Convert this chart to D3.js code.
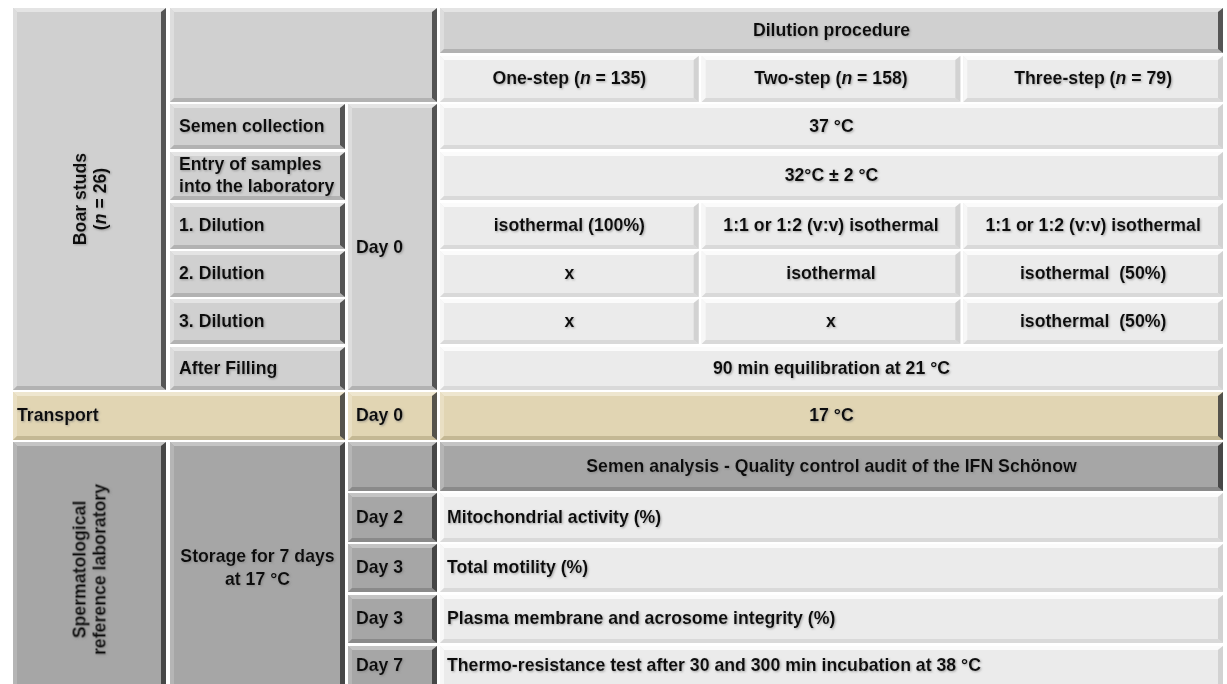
<!DOCTYPE html>
<html><head><meta charset="utf-8">
<script src="https://cdn.jsdelivr.net/npm/d3@7"></script>
<style>
html,body{margin:0;padding:0;background:#fff;}
svg text{font-family:"Liberation Sans",Arial,sans-serif;font-weight:bold;font-size:17.7px;fill:#111;white-space:pre;}
</style></head>
<body><svg id="c" width="1227" height="684"></svg>
<script>
// ---------- DATA ----------
const section1 = ["Boar studs", "(n = 26)"];
const section2 = ["Spermatological", "reference laboratory"];
const headerTitle = "Dilution procedure";
const procedures = ["One-step", "Two-step", "Three-step"];
const procedureN = [135, 158, 79];
const studSteps = ["Semen collection", "Entry of samples|into the laboratory", "1. Dilution", "2. Dilution", "3. Dilution", "After Filling"];
const stepDay = "Day 0";
const sharedTemps = ["37 °C", "32°C ± 2 °C", null, null, null, "90 min equilibration at 21 °C"];
const dilutionOneStep = ["isothermal (100%)", "x", "x"];
const dilutionTwoStep = ["1:1 or 1:2 (v:v) isothermal", "isothermal", "x"];
const dilutionThreeStep = ["1:1 or 1:2 (v:v) isothermal", "isothermal  (50%)", "isothermal  (50%)"];
const transportLabel = "Transport";
const transportDay = "Day 0";
const transportTemp = "17 °C";
const storageLabel = ["Storage for 7 days", "at 17 °C"];
const analysisTitle = "Semen analysis - Quality control audit of the IFN Schönow";
const analysisDays = ["Day 2", "Day 3", "Day 3", "Day 7"];
const analysisTests = ["Mitochondrial activity (%)", "Total motility (%)", "Plasma membrane and acrosome integrity (%)", "Thermo-resistance test after 30 and 300 min incubation at 38 °C"];

// ---------- LAYOUT ----------
const rowKeys = ["h0","h1","s0","s1","s2","s3","s4","s5","tr","a0","a1","a2","a3","a4"];
const rowTops = [8,56,104,152,203,251,299,347,392,442,493,544,595,646];
const rowBots = [53,102,149,200,249,297,344,390,440,491,542,592,643,697];
const yTop = d3.scaleOrdinal(rowKeys, rowTops);
const yBot = d3.scaleOrdinal(rowKeys, rowBots);
const colKeys = ["A","B","C","D"];
const xLeft = d3.scaleOrdinal(colKeys, [13,170,348,440]);
const xRight = d3.scaleOrdinal(colKeys, [166,345,437,1223]);
const xProc = d3.scaleBand(procedures, [440, 1225]).paddingInner(0.0);

const styles = {
  mid:  {fill:"#d0d0d0", t:"#e4e4e4", l:"#dddddd", b:"#b2b2b2", r:"#555555"},
  light:{fill:"#ebebeb", t:"#fbfbfb", l:"#f7f7f7", b:"#d9d9d9", r:"#d2d2d2"},
  tan:  {fill:"#e1d5b3", t:"#eee6cf", l:"#e9dfc3", b:"#c4b894", r:"#55534c"},
  dark: {fill:"#a6a6a6", t:"#c4c4c4", l:"#b5b5b5", b:"#8a8a8a", r:"#474747"}
};

const svg = d3.select("#c");
const defs = svg.append("defs");
defs.append("filter").attr("id","sh").attr("x","-5%").attr("y","-30%").attr("width","110%").attr("height","160%")
  .append("feDropShadow").attr("dx",1).attr("dy",1).attr("stdDeviation",0.8)
  .attr("flood-color","#777").attr("flood-opacity",0.6);

const gCells = svg.append("g");
const gText = svg.append("g").attr("filter","url(#sh)");

function cell(x0,y0,x1,y1,st){
  const s = styles[st];
  const g = gCells.append("g");
  const bt=4, bl=4, bb=4, br=5;
  g.append("rect").attr("x",x0).attr("y",y0).attr("width",x1-x0).attr("height",y1-y0).attr("fill",s.fill);
  const poly = (pts,c)=>g.append("polygon").attr("points",pts.map(p=>p.join(",")).join(" ")).attr("fill",c);
  poly([[x0,y0],[x1,y0],[x1-br,y0+bt],[x0+bl,y0+bt]], s.t);
  poly([[x0,y0],[x0+bl,y0+bt],[x0+bl,y1-bb],[x0,y1]], s.l);
  poly([[x0,y1],[x0+bl,y1-bb],[x1-br,y1-bb],[x1,y1]], s.b);
  poly([[x1,y0],[x1,y1],[x1-br,y1-bb],[x1-br,y0+bt]], s.r);
}
function txt(x,y,str,anchor){
  const t = gText.append("text").attr("x",x).attr("y",y).attr("text-anchor",anchor||"start").attr("dominant-baseline","central");
  return t.text(str);
}
const mid = (a,b)=>(a+b)/2;

// ---------- TOP SECTION ----------
cell(xLeft("A"), yTop("h0"), xRight("A"), yBot("s5"), "mid");
{
  const cx = mid(xLeft("A"), xRight("A")), cy = mid(yTop("h0"), yBot("s5"));
  const t = gText.append("text").attr("transform",`translate(${cx},${cy}) rotate(-90)`).attr("text-anchor","middle");
  t.append("tspan").attr("x",0).attr("dy","-0.2em").text(section1[0]);
  const t2 = t.append("tspan").attr("x",0).attr("dy","1.12em");
  const m = section1[1].match(/^\((n)(.*)$/);
  t2.append("tspan").text("(");
  t2.append("tspan").style("font-style","italic").text(m[1]);
  t2.append("tspan").text(m[2]);
}
cell(xLeft("B"), yTop("h0"), xRight("C"), yBot("h1"), "mid");
cell(xLeft("D"), yTop("h0"), xRight("D"), yBot("h0"), "mid");
txt(mid(xLeft("D"), xRight("D")), mid(yTop("h0"), yBot("h0"))-1, headerTitle, "middle");
procedures.forEach((p,i)=>{
  const x0 = xProc(p), x1 = i===procedures.length-1 ? xRight("D") : xProc(p)+xProc.bandwidth()-3;
  cell(x0, yTop("h1"), x1, yBot("h1"), "light");
  const t = gText.append("text").attr("x",mid(x0,x1)).attr("y",mid(yTop("h1"),yBot("h1"))-1).attr("text-anchor","middle").attr("dominant-baseline","central");
  t.append("tspan").text(p+" (");
  t.append("tspan").style("font-style","italic").text("n");
  t.append("tspan").text(" = "+procedureN[i]+")");
});
// day 0 column
cell(xLeft("C"), yTop("s0"), xRight("C"), yBot("s5"), "mid");
txt(xLeft("C")+8, mid(yTop("s0"), yBot("s5")), stepDay);

const dilutionByProc = [dilutionOneStep, dilutionTwoStep, dilutionThreeStep];
studSteps.forEach((lab,i)=>{
  const k = "s"+i;
  const y0 = yTop(k), y1 = yBot(k), cy = mid(y0,y1)-1;
  cell(xLeft("B"), y0, xRight("B"), y1, "mid");
  const lines = lab.split("|");
  if(lines.length===1) txt(xLeft("B")+9, cy, lines[0]);
  else { txt(xLeft("B")+9, cy-11, lines[0]); txt(xLeft("B")+9, cy+11, lines[1]); }
  if(sharedTemps[i]!==null){
    cell(xLeft("D"), y0, xRight("D"), y1, "light");
    txt(mid(xLeft("D"), xRight("D")), cy, sharedTemps[i], "middle");
  } else {
    procedures.forEach((p,j)=>{
      const x0 = xProc(p), x1 = j===procedures.length-1 ? xRight("D") : xProc(p)+xProc.bandwidth()-3;
      cell(x0, y0, x1, y1, "light");
      txt(mid(x0,x1), cy, dilutionByProc[j][i-2], "middle");
    });
  }
});

// ---------- TRANSPORT ----------
cell(xLeft("A"), yTop("tr"), xRight("B"), yBot("tr"), "tan");
txt(xLeft("A")+4, mid(yTop("tr"),yBot("tr"))-1, transportLabel);
cell(xLeft("C"), yTop("tr"), xRight("C"), yBot("tr"), "tan");
txt(xLeft("C")+8, mid(yTop("tr"),yBot("tr"))-1, transportDay);
cell(xLeft("D"), yTop("tr"), xRight("D"), yBot("tr"), "tan");
txt(mid(xLeft("D"), xRight("D")), mid(yTop("tr"),yBot("tr"))-1, transportTemp, "middle");

// ---------- LAB SECTION ----------
cell(xLeft("A"), yTop("a0"), xRight("A"), yBot("a4"), "dark");
{
  const cx = mid(xLeft("A"), xRight("A")), cy = mid(yTop("a0"), yBot("a4"));
  const t = gText.append("text").attr("transform",`translate(${cx},${cy}) rotate(-90)`).attr("text-anchor","middle");
  t.append("tspan").attr("x",0).attr("dy","-0.2em").text(section2[0]);
  t.append("tspan").attr("x",0).attr("dy","1.12em").text(section2[1]);
}
cell(xLeft("B"), yTop("a0"), xRight("B"), yBot("a4"), "dark");
{
  const cx = mid(xLeft("B"), xRight("B")), cy = mid(yTop("a0"), yBot("a4"));
  txt(cx, cy-14, storageLabel[0], "middle");
  txt(cx, cy+9, storageLabel[1], "middle");
}
cell(xLeft("C"), yTop("a0"), xRight("C"), yBot("a0"), "dark");
cell(xLeft("D"), yTop("a0"), xRight("D"), yBot("a0"), "dark");
txt(mid(xLeft("D"), xRight("D")), mid(yTop("a0"),yBot("a0"))-1, analysisTitle, "middle");
analysisDays.forEach((d,i)=>{
  const k = "a"+(i+1);
  const y0 = yTop(k), y1 = yBot(k);
  const cy = i===analysisDays.length-1 ? 665 : mid(y0,y1)-1;
  cell(xLeft("C"), y0, xRight("C"), y1, "dark");
  txt(xLeft("C")+8, cy, d);
  cell(xLeft("D"), y0, xRight("D"), y1, "light");
  txt(xLeft("D")+7, cy, analysisTests[i]);
});
</script></body></html>
